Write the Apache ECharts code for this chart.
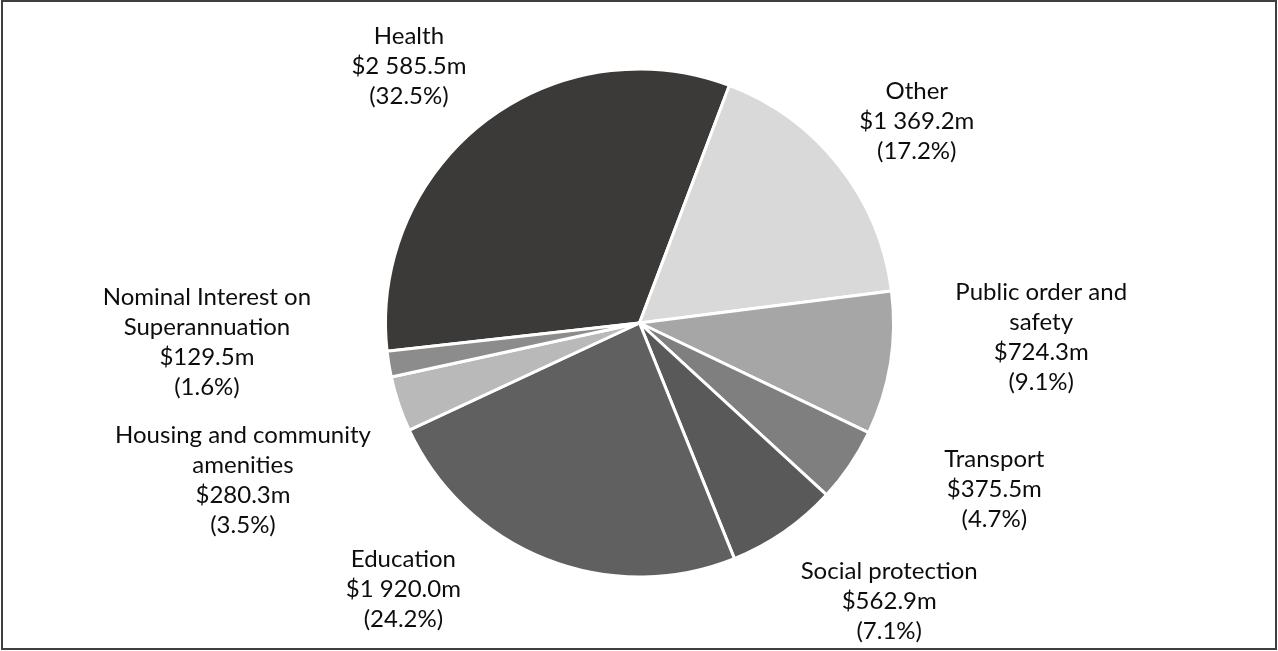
<!DOCTYPE html>
<html>
<head>
<meta charset="utf-8">
<title>Expenditure by function</title>
<script src="https://cdn.jsdelivr.net/npm/echarts@6/dist/echarts.min.js"></script>
<style>
  html, body { margin: 0; padding: 0; background: #ffffff; }
  #chart { width: 1278px; height: 651px; }
</style>
</head>
<body>
<div id="chart"></div>
<script>
// Expenditure by function ($ million), clockwise from the Health slice
const categories = [
  'Health',
  'Other',
  'Public order and\nsafety',
  'Transport',
  'Social protection',
  'Education',
  'Housing and community\namenities',
  'Nominal Interest on\nSuperannuation'
];
const values = [2585.5, 1369.2, 724.3, 375.5, 562.9, 1920.0, 280.3, 129.5];
const sliceColors = ['#3b3a38', '#d9d9d9', '#a6a6a6', '#7f7f7f', '#595959', '#606060', '#b9b9b9', '#8c8c8c'];

// Pie geometry
const PIE_CX = 639.5, PIE_CY = 323, PIE_R = 254, START_ANGLE = 186.4;

// Label placement: angular shift from each slice's middle (degrees) and distance from the centre (px)
const labelAngleShift = [4.1, -2.2, 7.05, 8.9, 7.2, -20.0, 3.0, -6.8];
const labelRadius = [345, 343, 402, 392, 374, 356, 426.5, 433];

const total = values.reduce((a, b) => a + b, 0);
const midAngles = [];
(function () {
  let a = START_ANGLE;
  values.forEach(v => {
    const span = v / total * 360;
    midAngles.push(a - span / 2);
    a -= span;
  });
})();

function money(v) {
  const parts = v.toFixed(1).split('.');
  const whole = parts[0].replace(/\B(?=(\d{3})+(?!\d))/g, ' ');
  return '$' + whole + '.' + parts[1] + 'm';
}

const chart = echarts.init(document.getElementById('chart'), null, { renderer: 'canvas' });

chart.setOption({
  backgroundColor: '#ffffff',
  animation: false,
  graphic: [{
    type: 'rect',
    shape: { x: 2, y: 1, width: 1274, height: 648 },
    style: { fill: 'none', stroke: '#404040', lineWidth: 2 },
    silent: true
  }],
  series: [{
    type: 'pie',
    center: [PIE_CX, PIE_CY],
    radius: [0, PIE_R],
    startAngle: START_ANGLE,
    clockwise: true,
    avoidLabelOverlap: false,
    emphasis: { disabled: true },
    itemStyle: { borderColor: '#ffffff', borderWidth: 3 },
    label: {
      show: true,
      position: 'outside',
      overflow: 'none',
      fontFamily: 'Lato',
      fontSize: 24,
      lineHeight: 30,
      color: '#0d0d0d',
      formatter: p => p.name + '\n' + money(p.value) + '\n(' + (p.value / total * 100).toFixed(1) + '%)'
    },
    labelLine: { show: false },
    labelLayout: function (params) {
      const i = params.dataIndex;
      const ang = (midAngles[i] + labelAngleShift[i]) * Math.PI / 180;
      return {
        x: PIE_CX + labelRadius[i] * Math.cos(ang),
        y: PIE_CY - labelRadius[i] * Math.sin(ang),
        align: 'center',
        verticalAlign: 'middle'
      };
    },
    data: categories.map((name, i) => ({
      name: name,
      value: values[i],
      itemStyle: { color: sliceColors[i] }
    }))
  }]
});
</script>
</body>
</html>
